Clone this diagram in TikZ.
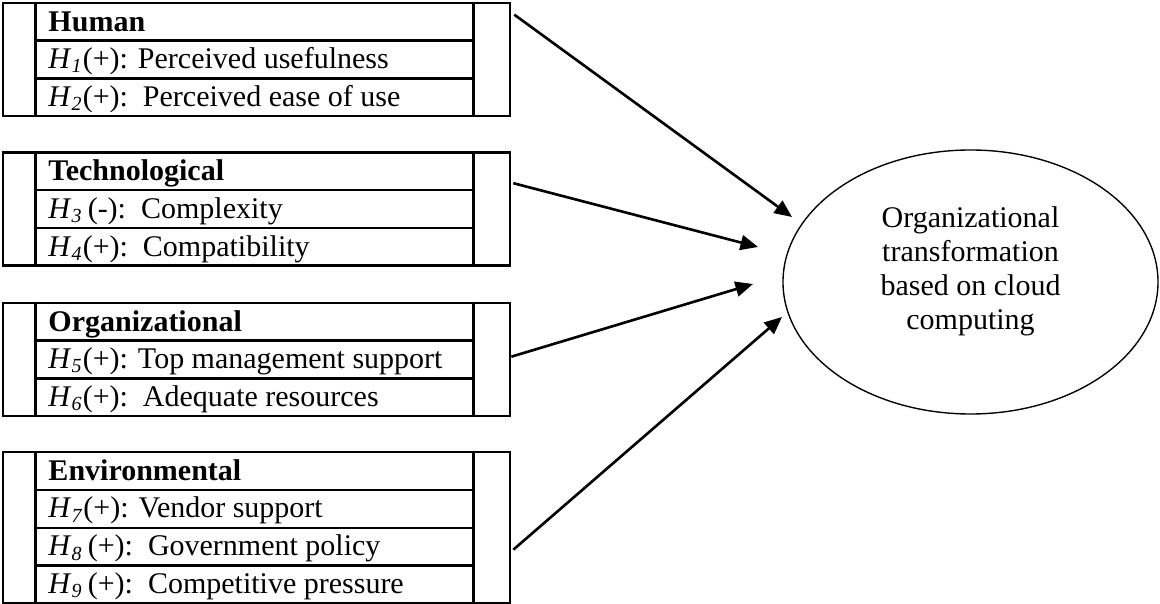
\documentclass[tikz,border=0pt]{standalone}
\usepackage{fontspec}
\setmainfont{Liberation Serif}
\usepackage{tikz}
\usetikzlibrary{calc,arrows.meta,shapes.geometric}
\tikzset{
  frame/.style={draw=black, line width=1.05pt},
  rowline/.style={draw=black, line width=0.85pt},
  box/.style={frame, rectangle, minimum width=202.8pt, inner sep=0pt},
  hd/.style={anchor=base west, inner sep=0pt, font=\bfseries},
  lab/.style={anchor=base west, inner sep=0pt},
  link/.style={draw=black, line width=1.05pt, -{Triangle[length=7pt,width=6pt]}},
  goal/.style={ellipse, draw=black, line width=0.55pt, minimum width=150pt, minimum height=105.6pt, inner sep=0pt},
}
\newcommand{\hyp}[1]{\textit{H}\textsubscript{\textit{#1}}}

\begin{document}
\fontsize{12}{13.6}\selectfont
\begin{tikzpicture}[x=0.4pt, y=-0.4pt]
  \useasboundingbox (0,0) rectangle (1160,604);
  % the four groups of factors
  \node[box, minimum height=45.2pt] (human) at (256.5,59.5) {};
  \node[box, minimum height=45.2pt] (tech) at (256.5,209) {};
  \node[box, minimum height=45.2pt] (org) at (256.5,359.5) {};
  \node[box, minimum height=60.4pt] (env) at (256.5,527.5) {};
  \foreach \b in {human,tech,org,env} {
    \draw[frame] ($(\b.north west)+(34,0)$) -- ($(\b.south west)+(34,0)$);
    \draw[frame] ($(\b.north east)+(-38,0)$) -- ($(\b.south east)+(-38,0)$);
  }
  \foreach \y in {40.5,78.5,190,228,340.5,378.5,490,528,565.5}
    \draw[rowline] (37,\y) -- (472,\y);

  \node[hd]  (h0) at (48,31.5) {Human};
  \node[lab] (h1) at (48,68.5) {\hyp{1}(+): Perceived usefulness};
  \node[lab] (h2) at (48,106.5) {\hyp{2}(+):\ \ Perceived ease of use};
  \node[hd]  (t0) at (48,180.5) {Technological};
  \node[lab] (h3) at (48,218.5) {\hyp{3}\,(-):\ \ Complexity};
  \node[lab] (h4) at (48,256.5) {\hyp{4}(+):\ \ Compatibility};
  \node[hd]  (o0) at (48,331.5) {Organizational};
  \node[lab] (h5) at (48,368.5) {\hyp{5}(+): Top management support};
  \node[lab] (h6) at (48,406.5) {\hyp{6}(+):\ \ Adequate resources};
  \node[hd]  (e0) at (48,480.5) {Environmental};
  \node[lab] (h7) at (48,518) {\hyp{7}(+): Vendor support};
  \node[lab] (h8) at (48,556) {\hyp{8}\,(+):\ \ Government policy};
  \node[lab] (h9) at (48,593.5) {\hyp{9}\,(+):\ \ Competitive pressure};

  % outcome
  \node[goal] (goal) at (970.5,282) {};
  \node[align=center, inner sep=0pt] (goaltext) at ([yshift=4.4pt]goal.center)
    {Organizational\\transformation\\based on cloud\\computing};

  % arrow ends stop short of the ellipse
  \coordinate (t1) at (792,217);
  \coordinate (t2) at (758,247);
  \coordinate (t3) at (753,284);
  \coordinate (t4) at (782,317);
  \draw[link] ($(human.north east)+(3,13)$) -- (t1);
  \draw[link] ($(tech.north east)+(2,32)$) -- (t2);
  \draw[link] ($(org.north east)+(0,55)$) -- (t3);
  \draw[link] ($(env.north east)+(2,99)$) -- (t4);
\end{tikzpicture}
\end{document}
